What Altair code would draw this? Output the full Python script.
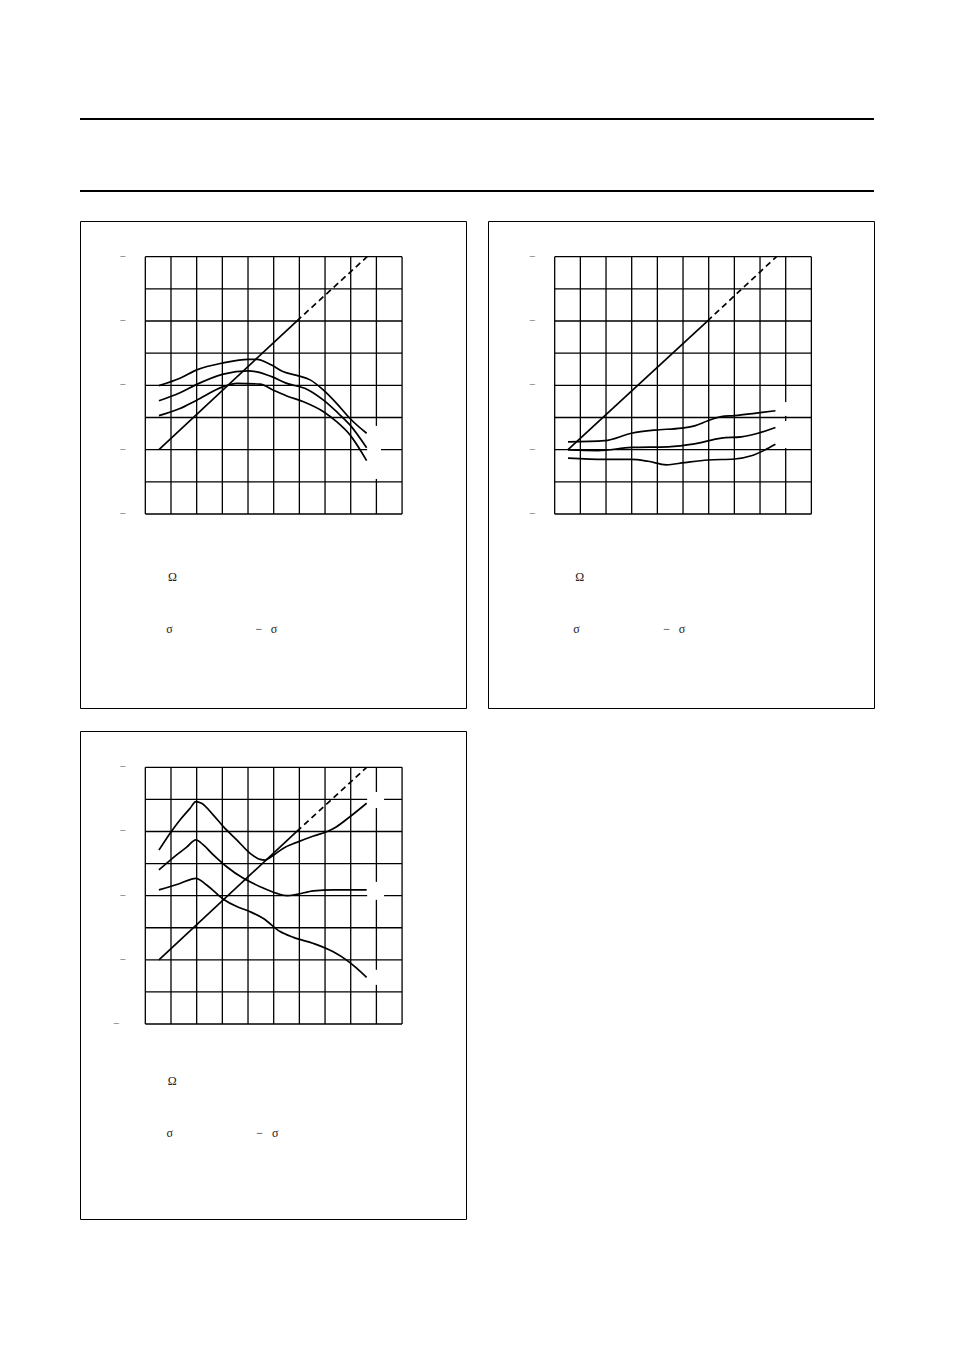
import altair as alt
import pandas as pd

# ---------------- data ----------------
# grid units: x = column index 0..10 ; y in dB, 10 dB per row
grid_cols = [0, 1, 2, 3, 4, 5, 6, 7, 8, 9, 10]
p12_rows = [-10, -20, -30, -40, -50, -60, -70, -80, -90]
p3_rows = [-20, -30, -40, -50, -60, -70, -80, -90, -100]

p12_tick_y = [-10, -30, -50, -70, -90]
p12_tick_x = [-0.88, -0.88, -0.88, -0.88, -0.88]
p3_tick_y = [-20, -40, -60, -80, -100]
p3_tick_x = [-0.88, -0.88, -0.88, -0.88, -1.14]

# panel 1
p1_c1_x = [0.53, 1.35, 2.0, 3.04, 4.01, 4.34, 4.92, 5.38, 5.9, 6.42, 6.94, 7.45, 7.97, 8.62]
p1_c1_y = [-50.1, -47.8, -45.2, -43.0, -41.9, -41.9, -43.7, -45.8, -46.9, -48.3, -51.5, -55.6, -60.3, -64.9]
p1_c2_x = [0.53, 1.35, 2.0, 3.04, 4.01, 4.34, 4.92, 5.51, 6.29, 6.94, 7.45, 7.97, 8.62]
p1_c2_y = [-54.8, -52.3, -49.7, -46.5, -45.5, -45.8, -47.3, -49.4, -51.2, -54.6, -58.2, -62.3, -69.4]
p1_c3_x = [0.53, 1.35, 2.0, 3.04, 3.56, 4.47, 4.99, 5.51, 6.16, 6.94, 7.45, 7.97, 8.62]
p1_c3_y = [-59.4, -57.2, -54.6, -50.4, -49.4, -49.6, -51.5, -53.3, -55.1, -58.2, -61.3, -65.4, -73.4]
p1_slope_x = [0.53, 5.9, 8.64]
p1_slope_y = [-70, -30, -10]

# panel 2
p2_c1_x = [0.52, 1.95, 2.99, 3.9, 4.94, 5.45, 5.97, 6.49, 7.01, 7.79, 8.6]
p2_c1_y = [-67.6, -67.2, -64.9, -63.9, -63.3, -62.6, -61.0, -59.7, -59.4, -58.7, -57.9]
p2_c2_x = [0.52, 1.69, 2.99, 4.42, 5.45, 6.49, 7.27, 7.92, 8.6]
p2_c2_y = [-70.1, -70.3, -69.3, -69.1, -68.2, -66.4, -66.0, -64.9, -63.1]
p2_c3_x = [0.52, 1.95, 2.99, 3.64, 4.35, 5.06, 5.97, 7.01, 7.66, 8.18, 8.6]
p2_c3_y = [-72.6, -73.0, -73.0, -73.6, -74.7, -74.0, -73.2, -72.9, -71.9, -70.1, -68.3]
p2_slope_x = [0.52, 5.95, 8.64]
p2_slope_y = [-70, -30, -10]

# panel 3
p3_c1_x = [0.53, 0.96, 1.35, 1.74, 1.97, 2.19, 2.65, 3.04, 3.56, 4.08, 4.47, 4.66, 4.92, 5.38, 5.9, 6.55, 7.06, 7.45, 7.97, 8.62]
p3_c1_y = [-45.8, -40.6, -36.4, -32.8, -30.7, -31.2, -34.9, -38.5, -42.6, -46.8, -48.7, -48.9, -47.8, -45.2, -43.4, -41.4, -40.1, -38.5, -35.4, -31.2]
p3_c2_x = [0.53, 1.22, 1.61, 1.97, 2.26, 2.65, 3.17, 3.82, 4.47, 5.12, 5.51, 5.9, 6.55, 7.32, 8.62]
p3_c2_y = [-52.0, -47.3, -44.9, -42.6, -44.2, -47.3, -51.0, -54.6, -57.2, -59.3, -60.0, -59.6, -58.5, -58.2, -58.2]
p3_c3_x = [0.53, 1.35, 1.97, 2.39, 3.04, 3.56, 4.08, 4.6, 5.25, 5.77, 6.55, 7.32, 7.84, 8.23, 8.62]
p3_c3_y = [-58.2, -56.2, -54.6, -56.7, -61.1, -63.4, -65.0, -67.1, -71.2, -73.0, -74.9, -77.5, -80.1, -82.6, -85.5]
p3_slope_x = [0.53, 5.9, 8.62]
p3_slope_y = [-80, -40, -20]

# label boxes (white) at the curve ends
p1_gap_x1 = [8.64]; p1_gap_x2 = [9.18]; p1_gap_y1 = [-62.6]; p1_gap_y2 = [-79.1]
p2_gap_x1 = [8.9, 8.9]; p2_gap_x2 = [9.15, 9.15]; p2_gap_y1 = [-55.2, -61.1]; p2_gap_y2 = [-59.5, -69.5]
p3_gap_x1 = [8.64, 8.64, 8.64]; p3_gap_x2 = [9.3, 9.3, 9.3]
p3_gap_y1 = [-27.7, -55.7, -83.1]; p3_gap_y2 = [-32.7, -61.3, -87.8]

# visible glyphs of the notes under each graph
note_text = ["Ω", "σ", "−", "σ"]
p1_note_x = [1.06, 0.94, 4.42, 5.01]
p1_note_y = [-109.6, -125.6, -125.6, -125.6]
p2_note_x = [0.97, 0.85, 4.36, 4.96]
p2_note_y = [-109.6, -125.6, -125.6, -125.6]
p3_note_x = [1.05, 0.95, 4.45, 5.06]
p3_note_y = [-117.8, -134.0, -134.0, -134.0]

header_rules = [0, 1]

FONT = "Liberation Serif"


def panel(rows, curves, slope_x, slope_y, tick_x, tick_y, gaps, note_x, note_y,
          xdom, ydom, w, h):
    xs = alt.Scale(domain=xdom, nice=False, zero=False)
    ys = alt.Scale(domain=ydom, nice=False, zero=False)

    vdf = pd.DataFrame({"x": grid_cols, "y": [rows[0]] * len(grid_cols),
                        "y2": [rows[-1]] * len(grid_cols)})
    hdf = pd.DataFrame({"y": rows, "x": [grid_cols[0]] * len(rows),
                        "x2": [grid_cols[-1]] * len(rows)})
    vr = alt.Chart(vdf).mark_rule(color="black", strokeWidth=1.3).encode(
        x=alt.X("x:Q", scale=xs, axis=None),
        y=alt.Y("y:Q", scale=ys, axis=None), y2="y2:Q")
    hr = alt.Chart(hdf).mark_rule(color="black", strokeWidth=1.3).encode(
        x=alt.X("x:Q", scale=xs, axis=None), x2="x2:Q",
        y=alt.Y("y:Q", scale=ys, axis=None))

    gx1, gx2, gy1, gy2 = gaps
    gdf = pd.DataFrame({"x": gx1, "x2": gx2, "y": gy1, "y2": gy2})
    gap = alt.Chart(gdf).mark_rect(color="white").encode(
        x=alt.X("x:Q", scale=xs, axis=None), x2="x2:Q",
        y=alt.Y("y:Q", scale=ys, axis=None), y2="y2:Q")

    rows_c = []
    for i, (cx, cy) in enumerate(curves):
        for a, b in zip(cx, cy):
            rows_c.append({"x": a, "y": b, "c": i})
    cdf = pd.DataFrame(rows_c)
    cur = alt.Chart(cdf).mark_line(color="black", strokeWidth=1.7,
                                   interpolate="monotone").encode(
        x=alt.X("x:Q", scale=xs, axis=None),
        y=alt.Y("y:Q", scale=ys, axis=None), detail="c:N")

    sdf = pd.DataFrame({"x": slope_x[:2], "y": slope_y[:2]})
    ddf = pd.DataFrame({"x": slope_x[1:], "y": slope_y[1:]})
    sol = alt.Chart(sdf).mark_line(color="black", strokeWidth=1.7).encode(
        x=alt.X("x:Q", scale=xs, axis=None), y=alt.Y("y:Q", scale=ys, axis=None))
    das = alt.Chart(ddf).mark_line(color="black", strokeWidth=1.7,
                                   strokeDash=[6, 4]).encode(
        x=alt.X("x:Q", scale=xs, axis=None), y=alt.Y("y:Q", scale=ys, axis=None))

    tdf = pd.DataFrame({"x": tick_x, "y": tick_y, "t": ["−"] * len(tick_y)})
    tks = alt.Chart(tdf).mark_text(font=FONT, fontSize=11, color="#555",
                                   baseline="middle", align="center").encode(
        x=alt.X("x:Q", scale=xs, axis=None), y=alt.Y("y:Q", scale=ys, axis=None),
        text="t:N")

    ndf = pd.DataFrame({"x": note_x, "y": note_y, "t": note_text})
    nts = alt.Chart(ndf).mark_text(font=FONT, fontSize=12, color="#222",
                                   baseline="middle", align="center").encode(
        x=alt.X("x:Q", scale=xs, axis=None), y=alt.Y("y:Q", scale=ys, axis=None),
        text="t:N")

    return alt.layer(vr, hr, gap, cur, sol, das, tks, nts).properties(
        width=w, height=h)


p1 = panel(p12_rows, [(p1_c1_x, p1_c1_y), (p1_c2_x, p1_c2_y), (p1_c3_x, p1_c3_y)],
           p1_slope_x, p1_slope_y, p12_tick_x, p12_tick_y,
           (p1_gap_x1, p1_gap_x2, p1_gap_y1, p1_gap_y2), p1_note_x, p1_note_y,
           [-2.544, 12.49], [-150.3, 1.09], 386, 487)
p2 = panel(p12_rows, [(p2_c1_x, p2_c1_y), (p2_c2_x, p2_c2_y), (p2_c3_x, p2_c3_y)],
           p2_slope_x, p2_slope_y, p12_tick_x, p12_tick_y,
           (p2_gap_x1, p2_gap_x2, p2_gap_y1, p2_gap_y2), p2_note_x, p2_note_y,
           [-2.598, 12.44], [-150.3, 1.09], 386, 487)
p3 = panel(p3_rows, [(p3_c1_x, p3_c1_y), (p3_c2_x, p3_c2_y), (p3_c3_x, p3_c3_y)],
           p3_slope_x, p3_slope_y, p3_tick_x, p3_tick_y,
           (p3_gap_x1, p3_gap_x2, p3_gap_y1, p3_gap_y2), p3_note_x, p3_note_y,
           [-2.544, 12.49], [-160.76, -8.69], 386, 488)

# header: two page rules, 72 px apart, inside a 76 px high view
hdf = pd.DataFrame({"y": header_rules, "x": [0, 0], "x2": [1, 1]})
header = alt.Chart(hdf).mark_rule(color="black", strokeWidth=2).encode(
    x=alt.X("x:Q", scale=alt.Scale(domain=[0, 1], nice=False), axis=None),
    x2="x2:Q",
    y=alt.Y("y:Q", scale=alt.Scale(domain=[-1 / 36, 1 + 1 / 36], nice=False), axis=None),
).properties(width=794, height=76, view=alt.ViewBackground(strokeOpacity=0))

body = alt.vconcat(alt.hconcat(p1, p2, spacing=20), p3, spacing=21)
chart = alt.vconcat(header, body, spacing=27).properties(
    padding={"left": 71, "top": 109, "right": 10, "bottom": 10},
    background="white",
).configure_view(stroke="black", strokeWidth=1)

chart.save("out.html", embed_options={"renderer": "svg", "actions": False})
